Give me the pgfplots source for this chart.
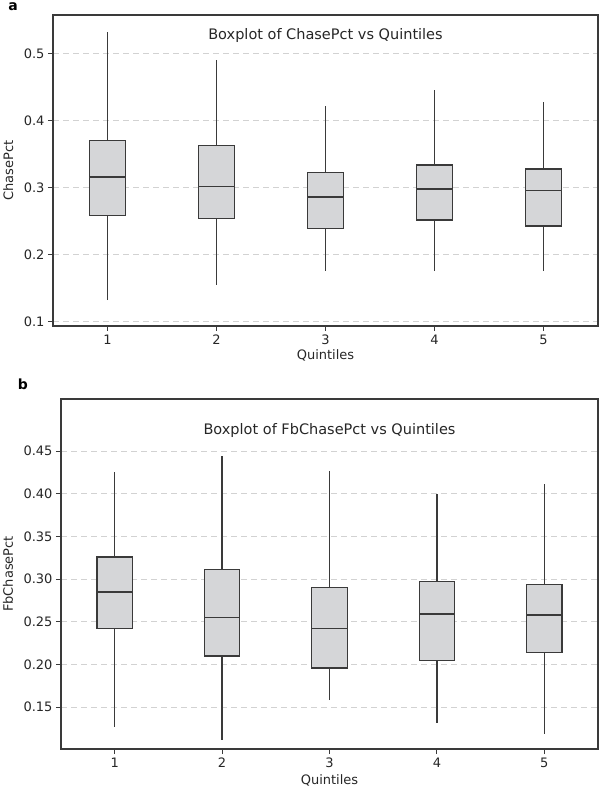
\documentclass[border=0pt]{standalone}
\usepackage{fontspec}
\setmainfont{DejaVu Sans}
\usepackage{pgfplots}
\pgfplotsset{compat=1.18}
\usepgfplotslibrary{statistics}
\definecolor{boxfill}{HTML}{D5D6D8}
\definecolor{lc}{HTML}{3A3A3A}
\definecolor{gridc}{HTML}{D2D2D2}
\pgfplotsset{
  mystyle/.style={
    scale only axis, anchor=south west,
    xmin=0.5, xmax=5.5, xtick={1,2,3,4,5},
    axis line style={lc, line width=1.3pt},
    tick style={lc, line width=1pt},
    tick align=outside, major tick length=5pt,
    xtick pos=bottom, ytick pos=left,
    ymajorgrids, grid style={gridc, dash pattern=on 6pt off 4pt, line width=1pt},
    tick label style={font=\fontsize{13}{15}\selectfont, text=black!85},
    label style={font=\fontsize{13}{15}\selectfont, text=black!85},
    /pgf/number format/assume math mode=true,
    boxplot/draw direction=y,
    boxplot/box extend=0.33,
    boxplot/whisker extend=0,
  },
  mybox/.style={draw=lc, fill=boxfill, line width=1.3pt, solid},
}
\begin{document}
\begin{tikzpicture}
\useasboundingbox (0,0) rectangle (600pt,795pt);
% Panel a
\begin{axis}[mystyle,
  at={(53pt,469pt)}, width=545pt, height=311pt,
  ymin=0.0936, ymax=0.558,
  ytick={0.1,0.2,0.3,0.4,0.5},
  yticklabel style={/pgf/number format/fixed, /pgf/number format/precision=1},
  xlabel={Quintiles}, ylabel={ChasePct},
  xlabel style={at={(axis description cs:0.5,-0.093)}, anchor=center},
  ylabel style={at={(axis description cs:-0.082,0.5)}, anchor=center, rotate=0},
  clip=false]
\addplot[mybox, boxplot prepared={lower whisker=0.132, lower quartile=0.259, median=0.316, upper quartile=0.371, upper whisker=0.532, draw position=1}] coordinates {};
\addplot[mybox, boxplot prepared={lower whisker=0.155, lower quartile=0.254, median=0.3015, upper quartile=0.363, upper whisker=0.491, draw position=2}] coordinates {};
\addplot[mybox, boxplot prepared={lower whisker=0.176, lower quartile=0.239, median=0.286, upper quartile=0.323, upper whisker=0.422, draw position=3}] coordinates {};
\addplot[mybox, boxplot prepared={lower whisker=0.175, lower quartile=0.252, median=0.298, upper quartile=0.334, upper whisker=0.446, draw position=4}] coordinates {};
\addplot[mybox, boxplot prepared={lower whisker=0.175, lower quartile=0.243, median=0.296, upper quartile=0.328, upper whisker=0.428, draw position=5}] coordinates {};
\node[font=\fontsize{14.5}{16}\selectfont, text=black!85] at (axis description cs:0.5,0.935) {Boxplot of ChasePct vs Quintiles};
\end{axis}
% Panel b
\begin{axis}[mystyle,
  at={(61pt,46pt)}, width=537pt, height=350pt,
  ymin=0.101, ymax=0.511,
  ytick={0.15,0.20,0.25,0.30,0.35,0.40,0.45},
  yticklabel style={/pgf/number format/fixed, /pgf/number format/fixed zerofill, /pgf/number format/precision=2},
  xlabel={Quintiles}, ylabel={FbChasePct},
  xlabel style={at={(axis description cs:0.5,-0.089)}, anchor=center},
  ylabel style={at={(axis description cs:-0.0985,0.5)}, anchor=center, rotate=0},
  clip=false]
\addplot[mybox, boxplot prepared={lower whisker=0.127, lower quartile=0.242, median=0.285, upper quartile=0.326, upper whisker=0.425, draw position=1}] coordinates {};
\addplot[mybox, boxplot prepared={lower whisker=0.112, lower quartile=0.210, median=0.255, upper quartile=0.311, upper whisker=0.444, draw position=2}] coordinates {};
\addplot[mybox, boxplot prepared={lower whisker=0.158, lower quartile=0.196, median=0.242, upper quartile=0.290, upper whisker=0.427, draw position=3}] coordinates {};
\addplot[mybox, boxplot prepared={lower whisker=0.132, lower quartile=0.2045, median=0.259, upper quartile=0.297, upper whisker=0.400, draw position=4}] coordinates {};
\addplot[mybox, boxplot prepared={lower whisker=0.119, lower quartile=0.214, median=0.258, upper quartile=0.294, upper whisker=0.411, draw position=5}] coordinates {};
\node[font=\fontsize{14.5}{16}\selectfont, text=black!85] at (axis description cs:0.5,0.909) {Boxplot of FbChasePct vs Quintiles};
\end{axis}
\node[font=\fontsize{14}{16}\selectfont\bfseries] at (13pt,788pt) {a};
\node[font=\fontsize{14}{16}\selectfont\bfseries] at (23pt,411pt) {b};
\end{tikzpicture}
\end{document}
